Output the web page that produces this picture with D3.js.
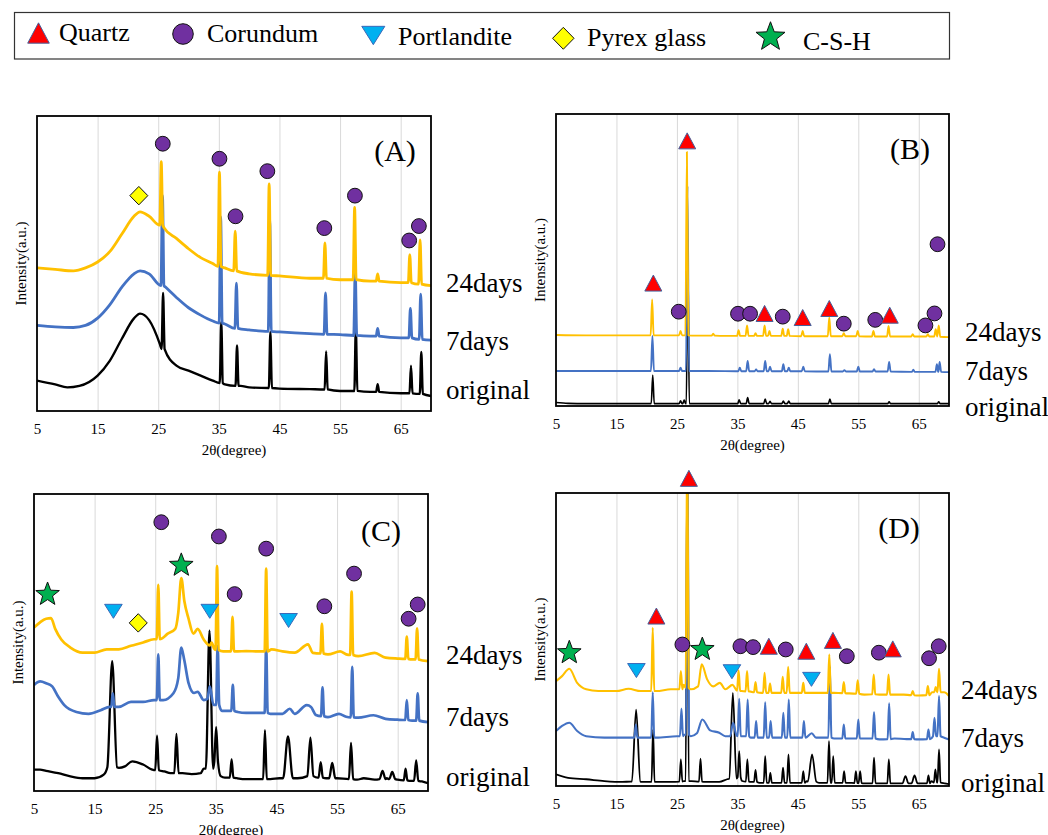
<!DOCTYPE html>
<html>
<head>
<meta charset="utf-8">
<script src="https://cdn.jsdelivr.net/npm/d3@7"></script>
<style>
  body { margin: 0; background: #fff; }
  svg { display: block; }
  text { font-family: "Liberation Serif", "Times New Roman", serif; fill: #000; }
</style>
</head>
<body>
<svg id="fig" width="1048" height="835"></svg>
<script>
// ---------------- data ----------------
const xTicks = [5, 15, 25, 35, 45, 55, 65];
const gridTicks = [15, 25, 35, 45, 55, 65];
const seriesLabels = ["24days", "7days", "original"];
const phases = ["Quartz", "Corundum", "Portlandite", "Pyrex glass", "C-S-H"];

// Profiles: base = [2θ, intensity] control points,
// peaks = [2θ, peak top, foot level, half base width (optional)]

// (A)
const a24Base = [[5,48.5],[8,48],[11,47.5],[13,48.5],[15,50.5],[17,54],[19,60],[21,66],[22,67.5],[23.5,66],[26,62],[28,58.5],[30,55],[32,52],[34,50],[36,48.5],[38,47],[40,46.5],[45,45.8],[50,45],[55,44.5],[60,44],[65,43.5],[70,42.5]];
const a24Peaks = [[25.5,84.5,63],[35.1,81,49],[37.7,61,47.5],[43.3,77,46],[52.5,57,45],[57.4,69,44.5],[61.2,46.5,44],[66.5,53,43.5],[68.2,58,43]];
const a7Base = [[5,29],[8,28.5],[11,28.3],[13,29],[15,31.5],[17,36],[19,42],[21,46.5],[22,47.5],[23.5,46.5],[26.2,42],[28,38.5],[30,35],[32,32.5],[34,30.5],[36,29.5],[38,28],[40,27.5],[45,26.8],[50,26.2],[55,25.9],[60,25.4],[65,24.8],[70,24]];
const a7Peaks = [[25.7,73,42.5],[35.3,65.8,29.8],[37.9,43.3,28],[43.4,64.4,27],[52.6,40,26],[57.5,48,25.6],[61.2,28,25.4],[66.6,34.8,24.8],[68.3,39.6,24.3]];
const aOrigBase = [[5,10.3],[8,9],[10,8],[12,8.5],[15,12],[17,17],[19,24.5],[21,31.4],[22,33],[23.5,30.8],[25.3,22.5],[28,15.4],[30,13.7],[32,12],[34,10.3],[36,9],[38.6,8.5],[40,8],[45,7.6],[50,7.4],[55,6.8],[60,6.5],[65,6],[70,5.1]];
const aOrigPeaks = [[25.8,40,21],[35.4,30.2,9.5],[38,22.2,8.5],[43.5,26.8,7.8],[52.7,20.2,7.3],[57.6,28,6.8],[61.2,9.1,6.5],[66.7,15.4,6],[68.4,20,5.8]];
const aMarkers = [["Pyrex glass",21.8,73],["Corundum",25.75,90.6],["Corundum",35.1,85.5],["Corundum",37.75,66],["Corundum",43,81.3],["Corundum",52.4,62],["Corundum",57.45,73],["Corundum",66.4,57.8],["Corundum",68,62.7]];

// (B)
const b24Base = [[5,24.3],[10,24.2],[15,24.2],[20,24.2],[24,24.2],[28,24.1],[33,24],[40,24],[50,23.9],[60,23.8],[65,23.8],[70,23.6]];
const b24Peaks = [[20.9,36.5,24.2],[25.6,25.7,24.2],[26.65,87,24.2],[31,24.8,24.1],[35.2,26,24],[36.6,27.6,24],[38,24.9,24],[39.5,27.6,24],[40.3,25.7,24],[42.5,26.5,24],[43.4,26.3,24],[45.8,25.7,23.9],[50.2,30.3,23.9],[52.6,24.9,23.9],[54.9,25.7,23.9],[57.5,25.7,23.8],[60,27.4,23.8],[64,24.6,23.8],[66.5,24.6,23.8],[67.8,26.3,23.8],[68.3,27.6,23.7]];
const b7Base = [[5,12],[10,12],[20,12],[30,12],[40,11.9],[50,11.8],[60,11.8],[70,11.6]];
const b7Peaks = [[20.95,24,12],[25.6,13.1,12],[26.75,75.3,12],[35.4,13.1,11.9],[36.7,15.4,11.9],[38.1,12.5,11.9],[39.6,15.4,11.9],[40.4,13.5,11.9],[42.6,14.3,11.9],[43.5,13.1,11.9],[45.9,13.5,11.9],[50.3,17.7,11.8],[52.7,12.3,11.8],[55,13.5,11.8],[57.6,12.6,11.8],[60.1,15.1,11.8],[64.1,12.4,11.7],[68,14.3,11.7],[68.45,15.1,11.7]];
const bOrigBase = [[5,1.2],[7,0.9],[10,0.8],[20,0.8],[30,0.8],[40,0.8],[50,0.8],[60,0.8],[70,0.8]];
const bOrigPeaks = [[21,10.6,0.8],[25.6,1.8,0.8],[26.2,2,0.8],[26.8,52.5,0.8],[35.3,2.1,0.8],[36.7,2.9,0.8],[39.6,2.4,0.8],[40.4,1.6,0.8],[42.6,1.7,0.8],[43.5,1.7,0.8],[50.3,2.4,0.8],[60.1,1.4,0.8],[68.3,1.4,0.8]];
const bMarkers = [["Corundum",25.3,32.3],["Corundum",35.1,31.6],["Corundum",37.1,31.6],["Corundum",42.5,30.6],["Corundum",52.6,28.2],["Corundum",57.8,29.5],["Corundum",66.1,27.6],["Corundum",67.6,31.7],["Corundum",68.1,55.4],["Quartz",26.7,90.8],["Quartz",21.1,42.1],["Quartz",39.5,31.7],["Quartz",45.8,30.3],["Quartz",50.2,33.4],["Quartz",60.2,31.1]];

// (C)
const c24Base = [[5,55],[6,56.8],[7,58],[7.8,58.2],[8.5,54.6],[9.5,51],[11,48.3],[13,46.6],[15,46.6],[17,47.7],[19,47.7],[21,48.9],[23,50],[24.8,51.1],[26.2,51.5],[27,52.9],[28.3,54.6],[28.8,60],[29.3,71.7],[29.8,64],[30.5,58],[31.3,53],[32,54.6],[33,51],[34,49],[34.3,50],[34.7,48],[36.2,47],[38.6,47],[40,47.1],[42,47],[44.2,47.7],[46,47],[48,46.6],[50.2,49.4],[51,46.5],[53.5,46],[55.5,47],[56.5,46],[58.5,45.4],[61.2,46.5],[63,44.9],[65,44.6],[67.4,44.3],[70,43.7]];
const c24Peaks = [[25.5,69.4,51.1],[35.2,75.7,47.5],[37.75,58.6,47],[43.3,74.9,47],[52.5,56.3,46.3],[57.4,67.1,45.8],[66.5,52,44.5],[68.2,54.8,44.3]];
const c7Base = [[5,35.7],[6,36.9],[7,36.3],[8,35.2],[9,31.7],[10,28.9],[12,26.6],[14,26],[16,27.2],[17.5,28.3],[19,28.3],[21,30],[23,30],[24.8,30.6],[26.3,30.6],[28,32.9],[28.8,38],[29.3,48.3],[29.8,44],[30.5,36.3],[31.4,33],[32,33.4],[33,30.6],[33.6,31],[34,35.2],[34.6,29],[36,27],[38.6,26.6],[40,26.3],[42,26.3],[44,26],[46,26],[47.2,27.7],[48,26],[50,28.9],[50.7,28.3],[51.5,25.6],[53.5,24.9],[55.3,26],[56.5,25],[58.5,24.7],[61,25.5],[63,24.3],[65,24],[67.4,23.7],[70,23.2]];
const c7Peaks = [[18,32.9,28.3],[25.5,46,30.6],[35.3,48.9,29],[37.8,35.7,27],[43.3,48.9,26.3],[52.6,34.9,25.2],[57.5,41.8,24.8],[66.5,30.6,23.9],[68.3,32.9,23.7]];
const cOrigBase = [[5,7.2],[6,7.2],[7,6.8],[9,6],[11,4.9],[13,4.3],[15,4.3],[16.5,5.5],[19,7.8],[20,8.3],[21.2,10],[23,8.9],[24.5,7.2],[26.5,6.6],[27.5,6],[29.5,6],[31,5.7],[32.5,6],[33,7.5],[35.8,5],[36.5,4.5],[38.5,4.3],[40,4],[42,4],[44,4],[45.5,4.3],[48.5,4.3],[51.8,4.5],[53.2,4.3],[55,4.3],[58.3,3.8],[59.4,4.3],[61.2,3.8],[63.2,4.3],[65,3.8],[67.2,3.4],[69,3.2],[70,2.6]];
const cOrigPeaks = [[17.9,43.7,8,0.8],[25.3,18.6,7,0.3],[28.5,19.2,6,0.35],[33.95,54,7.5,0.6],[35.05,21.5,10,0.3],[37.6,10.6,4.5,0.3],[43.1,20.5,4,0.3],[46.9,18.4,4.3,0.8],[50.6,18,5,0.5],[52.3,9.7,4.5,0.35],[54.2,9.5,4.3,0.5],[57.3,16.2,4,0.35],[62.5,6.8,4,0.5],[64.1,6.4,4,0.5],[66.3,7.5,3.6,0.3],[68.05,10.3,3.4,0.35]];
const cMarkers = [["Corundum",26,90.5],["Corundum",35.5,85.7],["Corundum",43.3,81.6],["Corundum",38.1,66.3],["Corundum",52.9,62.2],["Corundum",57.8,73.2],["Corundum",66.8,58],["Corundum",68.3,62.8],["Pyrex glass",22.2,56.6],["Portlandite",18.1,60.5],["Portlandite",34,60.5],["Portlandite",47,57.4],["C-S-H",7.24,66.2],["C-S-H",29.3,76]];

// (D)
const d24Base = [[5,35.8],[6,37.5],[7.2,40],[8.5,35.2],[10,33],[12,32.4],[15,32.4],[17,33.2],[19,32.4],[20.4,32.4],[21.6,32.4],[24,33],[25,33],[26.1,34.5],[27.3,33],[28.5,34],[29.1,41.5],[30,36.4],[31,34],[32.1,35.2],[33,33],[34.2,34.5],[35.7,32.4],[37.2,32.2],[39,31.8],[41,31.8],[44,31.8],[46.5,31.8],[48,31.8],[51,31.8],[53.5,31.6],[56,31.2],[58.5,31.2],[61,31.2],[62.5,31.2],[65,30.9],[67.2,32],[69.2,32],[70,30.7]];
const d24Peaks = [[21,54,32.4],[25.65,39.2,33],[26.7,120,33.5],[35.2,39.5,32.5],[36.6,39.2,32.3],[38,35.5,32],[39.5,38.6,31.8],[40.4,35,31.8],[42.5,37.3,31.8],[43.4,40.7,31.8],[45.9,35.2,31.8],[50.2,44.9,31.8],[52.6,35.5,31.7],[54.9,36.1,31.5],[57.55,38,31.3],[60,38,31.2],[64,32.4,31],[66.5,34.1,31],[67.8,33.8,32],[68.35,40,32]];
const d7Base = [[5,18.75],[6,20.5],[7.2,21.6],[8.5,18.75],[10,17],[13,16.5],[16,16.5],[17.5,16.5],[19,16.5],[20.3,16.5],[21.6,16.5],[25,17],[26.2,17.5],[27.3,17],[28.3,18],[29.2,22.7],[30.5,19],[32,18.2],[33,17],[33.8,17],[34.3,21.6],[34.8,17.5],[36,17],[37.2,16.5],[39,16.5],[41,16.5],[44.5,16.5],[47.3,18],[48,16.5],[51,16.2],[53.5,16.2],[56,16.2],[58.5,15.9],[61,16.2],[63,16],[65,15.9],[69.2,16.5],[70,15.9]];
const d7Peaks = [[18.2,21,16.5],[21,32,16.5],[25.75,26.4,17],[26.75,118,17.5],[35.3,29.8,17],[36.7,29.5,17],[38.1,22.2,16.5],[39.6,28.6,16.5],[40.5,22.2,16.5],[42.6,25,16.5],[43.5,29.5,16.5],[46,22.2,16.5],[50.3,40.9,16.5],[52.6,21,16.2],[55,22.7,16.2],[57.6,25.2,16.2],[60.1,28.2,16],[64,18.4,16],[66.6,19.3,16],[67.6,23.3,17],[68.35,30.7,17]];
const dOrigBase = [[5,4],[7,2.8],[10,2.3],[13,1.7],[16,1.4],[17.3,1.5],[19.2,1.4],[20.3,1.4],[21.7,1.4],[24,1.4],[26.2,1.7],[27.4,1.7],[29.7,1.4],[32,1.4],[33.3,2.3],[35.8,1.7],[37.3,1.4],[38.7,1.1],[41,1.1],[44.3,1.1],[46.5,1.7],[48.5,1.1],[51.6,1.1],[53.5,1.1],[56,0.9],[58.5,0.9],[61,0.9],[63.5,0.9],[65.2,0.9],[67.1,1.7],[69.3,0.9],[70,0.6]];
const dOrigPeaks = [[18.25,26.1,1.5,0.7],[21.05,19.3,1.4],[25.65,9.1,1.5],[26.7,115,1.7],[28.9,9.3,1.5],[34.25,31.8,2.5,0.6],[35.3,11.9,3],[36.65,9.1,1.5],[38,5.5,1.4],[39.6,10.2,1.1],[40.45,4.5,1.1],[42.55,6.3,1.1],[43.45,10.8,1.1],[45.9,5.1,1.1],[47.35,10.8,1.5,0.7],[50.15,15.3,1.1],[50.85,10.2,1.1],[52.65,5.1,1.1],[54.6,5.1,1],[55.3,5.1,1],[57.6,9.7,0.9],[60.05,9.1,0.9],[62.8,3.4,0.9,0.5],[64.3,3.6,0.9,0.5],[66.6,3.6,0.9],[67.75,5.7,1.2],[68.35,12.5,1.2]];
const dMarkers = [["Corundum",25.9,48.3],["Corundum",35.5,47.7],["Corundum",37.6,47.4],["Corundum",43,46.6],["Corundum",53.1,44.3],["Corundum",58.4,45.5],["Corundum",66.7,43.6],["Corundum",68.3,47.7],["Portlandite",18.3,39.4],["Portlandite",34.1,39],["Portlandite",47.25,36.4],["Quartz",26.98,105],["Quartz",21.6,58],["Quartz",40.2,47.7],["Quartz",46.4,46],["Quartz",50.8,49.7],["Quartz",60.7,46.8],["C-S-H",7.2,45.5],["C-S-H",29.2,46.6]];

// ---------------- layout & style ----------------
const svg = d3.select("#fig");
const seriesColors = ["#FFC000", "#4472C4", "#000000"];
const DEFAULT_HALF_WIDTH = 0.25;

const panels = [
  { tag: "(A)", box: [37, 116, 431, 411], series: [[a24Base,a24Peaks],[a7Base,a7Peaks],[aOrigBase,aOrigPeaks]], markers: aMarkers,
    labelX: 446, labelY: [292, 350, 399], tagPos: [-36, 45], lw: 2.8 },
  { tag: "(B)", box: [556, 114, 949, 406], series: [[b24Base,b24Peaks],[b7Base,b7Peaks],[bOrigBase,bOrigPeaks]], markers: bMarkers,
    labelX: 965, labelY: [341, 380, 416], tagPos: [-39, 45], lw: 1.9 },
  { tag: "(C)", box: [34, 494, 428, 791], series: [[c24Base,c24Peaks],[c7Base,c7Peaks],[cOrigBase,cOrigPeaks]], markers: cMarkers,
    labelX: 446, labelY: [664, 726, 786], tagPos: [-47, 47], lw: 2.7 },
  { tag: "(D)", box: [556, 493, 949, 786], series: [[d24Base,d24Peaks],[d7Base,d7Peaks],[dOrigBase,dOrigPeaks]], markers: dMarkers,
    labelX: 961, labelY: [699, 747, 792], tagPos: [-50, 45], lw: 2.1 }
];

const markerStyle = {
  "Quartz":      { fill: "#FF0000", stroke: "#44609C", sw: 1 },
  "Corundum":    { fill: "#7030A0", stroke: "#111111", sw: 1 },
  "Portlandite": { fill: "#00B0F0", stroke: "#3A68B8", sw: 1 },
  "Pyrex glass": { fill: "#FFFF00", stroke: "#111111", sw: 1 },
  "C-S-H":       { fill: "#00B050", stroke: "#111111", sw: 1 }
};

// shape outline for a phase symbol; k scales the panel-size symbol up for the legend
function markerPath(kind, k) {
  const p = d3.path();
  if (kind === "Quartz") {
    const w = 8.5 * k, h = 8 * k;
    p.moveTo(0, -h); p.lineTo(w, h); p.lineTo(-w, h); p.closePath();
  } else if (kind === "Portlandite") {
    const w = 8.8 * k, h = 7 * k;
    p.moveTo(-w, -h); p.lineTo(w, -h); p.lineTo(0, h); p.closePath();
  } else if (kind === "Corundum") {
    const r = 7.4 * k;
    p.arc(0, 0, r, 0, 2 * Math.PI); p.closePath();
  } else if (kind === "Pyrex glass") {
    const w = 9 * k, h = 9.2 * k;
    p.moveTo(0, -h); p.lineTo(w, 0); p.lineTo(0, h); p.lineTo(-w, 0); p.closePath();
  } else {
    const R = 12.4 * k, r = R * 0.42;
    for (let i = 0; i < 10; i++) {
      const a = -Math.PI / 2 + i * Math.PI / 5, rr = i % 2 ? r : R;
      const x = rr * Math.cos(a), y = rr * Math.sin(a);
      if (i === 0) p.moveTo(x, y); else p.lineTo(x, y);
    }
    p.closePath();
  }
  return p.toString();
}

// merge control points and peaks into one ordered profile
function profile(base, peaks) {
  const hw = pk => (pk[3] === undefined ? DEFAULT_HALF_WIDTH : pk[3]);
  const pts = base.filter(([x]) => !peaks.some(pk => Math.abs(x - pk[0]) < hw(pk) + 0.05));
  peaks.forEach(pk => {
    const w = hw(pk);
    pts.push([pk[0] - w, pk[2]], [pk[0], pk[1]], [pk[0] + w, pk[2]]);
  });
  pts.sort((a, b) => a[0] - b[0]);
  return pts.filter((d, i) => i === 0 || d[0] > pts[i - 1][0] + 1e-6);
}

const defs = svg.append("defs");

panels.forEach((pn, pi) => {
  const [x0, y0, x1, y1] = pn.box;
  const x = d3.scaleLinear().domain([5, 70]).range([x0, x1]);
  const y = d3.scaleLinear().domain([0, 100]).range([y1, y0]);
  const g = svg.append("g");

  // vertical gridlines
  g.append("g")
    .attr("transform", `translate(0,${y1})`)
    .call(d3.axisBottom(x).tickValues(gridTicks).tickSize(-(y1 - y0)).tickFormat(""))
    .call(s => s.select(".domain").remove())
    .call(s => s.selectAll("line").attr("stroke", "#D9D9D9").attr("stroke-width", 1));

  // tick labels
  g.append("g")
    .attr("transform", `translate(0,${y1})`)
    .call(d3.axisBottom(x).tickValues(xTicks).tickSize(0).tickPadding(12.5).tickFormat(d3.format("d")))
    .call(s => s.select(".domain").remove())
    .call(s => s.selectAll("text").attr("font-size", 15).attr("font-family", "Liberation Serif, serif").attr("fill", "#000"));

  // diffraction patterns
  const clipId = "clip" + pi;
  defs.append("clipPath").attr("id", clipId)
    .append("rect").attr("x", x0).attr("y", y0).attr("width", x1 - x0).attr("height", y1 - y0);
  const line = d3.line().x(d => x(d[0])).y(d => y(d[1])).curve(d3.curveMonotoneX);
  const lg = g.append("g").attr("clip-path", `url(#${clipId})`);
  [2, 1, 0].forEach(si => {
    const [base, peaks] = pn.series[si];
    lg.append("path")
      .attr("d", line(profile(base, peaks)))
      .attr("fill", "none")
      .attr("stroke", seriesColors[si])
      .attr("stroke-width", si === 2 ? pn.lw * 0.85 : pn.lw)
      .attr("stroke-linejoin", "round");
  });

  // frame
  g.append("rect")
    .attr("x", x0).attr("y", y0).attr("width", x1 - x0).attr("height", y1 - y0)
    .attr("fill", "none").attr("stroke", "#000").attr("stroke-width", 1.8);

  // phase symbols
  g.append("g").selectAll("path")
    .data(pn.markers)
    .join("path")
    .attr("transform", d => `translate(${x(d[1])},${y(d[2])})`)
    .attr("d", d => markerPath(d[0], 1))
    .attr("fill", d => markerStyle[d[0]].fill)
    .attr("stroke", d => markerStyle[d[0]].stroke)
    .attr("stroke-width", d => markerStyle[d[0]].sw);

  // panel tag
  g.append("text")
    .attr("x", x1 + pn.tagPos[0]).attr("y", y0 + pn.tagPos[1])
    .attr("text-anchor", "middle").attr("font-size", 30)
    .text(pn.tag);

  // series names
  seriesLabels.forEach((s, si) => {
    g.append("text")
      .attr("x", pn.labelX).attr("y", pn.labelY[si])
      .attr("font-size", 27)
      .text(s);
  });

  // axis titles
  g.append("text")
    .attr("x", (x0 + x1) / 2).attr("y", y1 + 44)
    .attr("text-anchor", "middle").attr("font-size", 15)
    .text("2θ(degree)");
  g.append("text")
    .attr("transform", `translate(${x0 - 11},${(y0 + y1) / 2}) rotate(-90)`)
    .attr("text-anchor", "middle").attr("font-size", 15)
    .text("Intensity(a.u.)");
});

// ---------------- legend ----------------
const legendPos = [
  { mx: 38.5, my: 33, tx: 59, ty: 41 },
  { mx: 183, my: 34, tx: 207, ty: 42 },
  { mx: 373.3, my: 35.5, tx: 398, ty: 45 },
  { mx: 563.3, my: 38.3, tx: 587, ty: 45.5 },
  { mx: 770.5, my: 37, tx: 803, ty: 49.5 }
];
const legend = svg.append("g");
legend.append("rect")
  .attr("x", 14.5).attr("y", 12.5).attr("width", 935).attr("height", 46.5)
  .attr("fill", "#fff").attr("stroke", "#333").attr("stroke-width", 1.2);
phases.forEach((ph, i) => {
  const lp = legendPos[i];
  const k = ph === "Corundum" ? 1.39 : ph === "C-S-H" ? 1.23 : ph === "Pyrex glass" ? 1.19 : ph === "Portlandite" ? 1.31 : 1.27;
  legend.append("path")
    .attr("transform", `translate(${lp.mx},${lp.my})`)
    .attr("d", markerPath(ph, k))
    .attr("fill", markerStyle[ph].fill)
    .attr("stroke", markerStyle[ph].stroke)
    .attr("stroke-width", 1);
  legend.append("text")
    .attr("x", lp.tx).attr("y", lp.ty)
    .attr("font-size", 26)
    .text(ph);
});
</script>
</body>
</html>
